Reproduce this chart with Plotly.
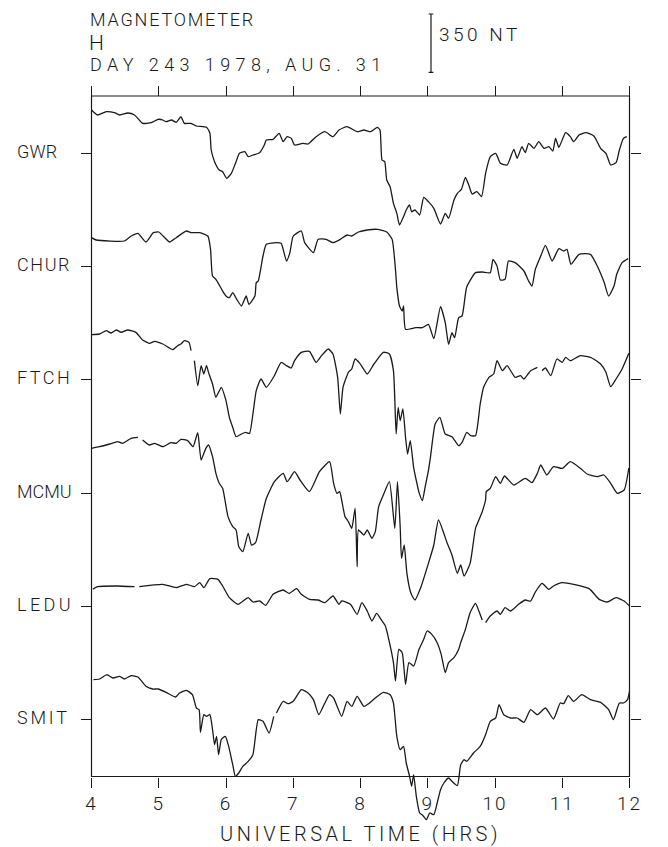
import plotly.graph_objects as go

# ---------------- data (H deviation in nT relative to each station's tick level) -------------
STATIONS = ["GWR", "CHUR", "FTCH", "MCMU", "LEDU", "SMIT"]
HOURS = [4, 5, 6, 7, 8, 9, 10, 11, 12]
SCALE_NT = 350

gwr_t = [4.00, 4.09, 4.22, 4.34, 4.42, 4.54, 4.64, 4.76, 4.89, 4.99, 5.06, 5.11, 5.19, 5.26, 5.33, 5.38,
         5.48, 5.56, 5.71, 5.76, 5.78, 5.83, 5.90, 5.95, 6.01, 6.08, 6.15, 6.20, 6.28, 6.33, 6.40, 6.50,
         6.57, 6.60, 6.70, 6.79, 6.85, 6.91, 6.97, 7.02, 7.14, 7.22, 7.34, 7.47, 7.59, 7.68, 7.80, 7.95,
         8.05, 8.15, 8.25, 8.29, 8.32, 8.36, 8.39, 8.44, 8.49, 8.54, 8.58, 8.64, 8.68, 8.73, 8.76, 8.81,
         8.88, 8.94, 9.01, 9.09, 9.19, 9.26, 9.31, 9.39, 9.44, 9.50, 9.56, 9.61, 9.66, 9.73, 9.80, 9.86,
         9.93, 10.01, 10.08, 10.18, 10.28, 10.33, 10.40, 10.45, 10.50, 10.58, 10.65, 10.73, 10.80, 10.86,
         10.90, 10.95, 11.05, 11.12, 11.17, 11.25, 11.35, 11.47, 11.57, 11.65, 11.72, 11.80, 11.85, 11.91,
         11.96]
gwr_h = [258, 228, 248, 242, 228, 240, 228, 178, 182, 202, 198, 188, 198, 184, 218, 178,
         178, 162, 154, 120, 18, -52, -102, -112, -152, -122, -52, -2, 8, -22, -12, 2,
         48, 78, 82, 118, 68, 98, 88, 48, 58, 54, 98, 128, 98, 138, 158, 128,
         138, 128, 154, 138, -42, -52, -162, -202, -302, -362, -432, -382, -342, -312, -352, -342,
         -372, -266, -292, -332, -426, -362, -392, -282, -242, -218, -146, -192, -246, -232, -262, -122,
         -22, -2, -62, -72, 22, -32, 38, 2, 58, 28, 68, 28, 38, 12,
         88, 34, 122, 98, 68, 108, 122, 102, 28, -2, -72, -58, 18, 88,
         98]

chur_t = [4.00, 4.07, 4.49, 4.59, 4.69, 4.81, 4.92, 5.00, 5.09, 5.16, 5.26, 5.41, 5.48, 5.61, 5.73, 5.77,
          5.80, 5.85, 5.88, 5.95, 6.00, 6.05, 6.10, 6.16, 6.23, 6.30, 6.34, 6.43, 6.45, 6.48, 6.55, 6.60,
          6.75, 6.82, 6.90, 6.95, 7.00, 7.12, 7.17, 7.30, 7.37, 7.49, 7.59, 7.70, 7.80, 7.87, 7.97, 8.10,
          8.25, 8.39, 8.47, 8.52, 8.54, 8.58, 8.62, 8.64, 8.67, 8.82, 8.92, 9.01, 9.09, 9.19, 9.26, 9.31,
          9.36, 9.40, 9.46, 9.51, 9.58, 9.71, 9.81, 9.93, 9.97, 10.03, 10.08, 10.15, 10.20, 10.30, 10.43,
          10.50, 10.55, 10.60, 10.68, 10.75, 10.85, 10.95, 11.02, 11.07, 11.13, 11.25, 11.42, 11.52, 11.62,
          11.69, 11.77, 11.81, 11.89, 11.98]
chur_h = [172, 158, 152, 182, 198, 146, 202, 206, 172, 146, 172, 212, 202, 202, 182, 102,
          -58, -78, -98, -148, -178, -188, -158, -198, -238, -178, -228, -178, -98, -88, 62, 132,
          142, 138, 32, 82, 182, 212, 142, 82, 162, 162, 142, 162, 188, 182, 206, 218,
          222, 206, 162, -18, -126, -238, -268, -238, -378, -368, -368, -348, -434, -242, -338, -468,
          -398, -428, -308, -298, -123, -38, -34, -38, 42, 2, -82, -78, 32, 22, -28,
          -88, -118, -18, 62, 126, 32, 106, 92, 102, 12, 72, 72, 2, -93,
          -178, -118, -48, 22, 46]

ftch_t = [4.00, 4.12, 4.22, 4.29, 4.37, 4.44, 4.54, 4.66, 4.76, 4.86, 4.94, 5.06, 5.21, 5.28, 5.33, 5.38,
          5.45, 5.48, 5.50, 5.53, 5.58, 5.63, 5.67, 5.71, 5.74, 5.80, 5.85, 5.93, 6.00, 6.05, 6.10, 6.15,
          6.23, 6.29, 6.35, 6.40, 6.45, 6.52, 6.60, 6.72, 6.82, 6.90, 6.97, 7.02, 7.12, 7.24, 7.34, 7.42,
          7.52, 7.59, 7.66, 7.70, 7.74, 7.82, 7.87, 7.92, 7.99, 8.10, 8.20, 8.34, 8.43, 8.49, 8.53, 8.56,
          8.59, 8.63, 8.67, 8.70, 8.74, 8.79, 8.83, 8.87, 8.92, 8.96, 9.01, 9.04, 9.11, 9.18, 9.26, 9.36,
          9.46, 9.51, 9.58, 9.64, 9.71, 9.78, 9.83, 9.91, 9.98, 10.03, 10.11, 10.18, 10.30, 10.38, 10.43,
          10.53, 10.63, 10.66, 10.70, 10.75, 10.83, 10.92, 11.00, 11.05, 11.12, 11.27, 11.44, 11.57, 11.65,
          11.72, 11.80, 11.89, 11.99]
ftch_h = [270, 274, 294, 280, 298, 284, 298, 284, 238, 218, 230, 214, 180, 204, 214, 234,
          224, 174, None, 114, -36, 84, 34, 84, 44, -26, -106, -46, -126, -226, -286, -342,
          -326, -316, -322, -206, -66, 4, -46, 24, 104, 84, 70, 114, 164, 170, 104, 144,
          184, 154, 14, -206, -46, 44, 64, 124, 98, 34, 94, 164, 154, 54, -326, -166,
          -246, -176, -346, -446, -366, -526, -606, -676, -726, -646, -546, -466, -266, -226, -326, -342,
          -396, -376, -316, -336, -336, -146, -46, 14, 34, 114, 54, 84, 14, 24, 4,
          54, 74, None, 54, 70, 24, 124, 104, 134, 114, 144, 130, 94, 44,
          -42, 4, 64, 158]

mcmu_t = [4.00, 4.12, 4.27, 4.39, 4.46, 4.59, 4.69, 4.72, 4.76, 4.86, 4.94, 5.06, 5.18, 5.26, 5.33, 5.43,
          5.51, 5.58, 5.63, 5.70, 5.74, 5.80, 5.85, 5.90, 5.95, 6.03, 6.10, 6.15, 6.19, 6.25, 6.33, 6.38,
          6.44, 6.52, 6.60, 6.72, 6.85, 6.91, 7.02, 7.10, 7.24, 7.39, 7.54, 7.60, 7.65, 7.69, 7.72, 7.77,
          7.82, 7.87, 7.92, 7.95, 7.97, 8.05, 8.10, 8.17, 8.22, 8.27, 8.35, 8.43, 8.51, 8.55, 8.59, 8.61,
          8.65, 8.69, 8.75, 8.81, 8.90, 9.01, 9.09, 9.16, 9.29, 9.36, 9.44, 9.49, 9.54, 9.63, 9.71, 9.76,
          9.81, 9.86, 9.87, 9.93, 10.01, 10.08, 10.14, 10.28, 10.45, 10.55, 10.63, 10.68, 10.77, 10.87,
          11.00, 11.12, 11.27, 11.37, 11.52, 11.62, 11.72, 11.82, 11.92, 11.99]
mcmu_h = [268, 278, 294, 308, 298, 328, 334, None, 318, 288, 298, 278, 302, 298, 322, 314,
          278, 362, 198, 268, 288, 218, 118, 58, 28, -142, -202, -222, -322, -352, -242, -312,
          -298, -162, -32, 68, 118, 68, 128, 78, 8, 128, 188, 58, -2, 8, -42, -142,
          -172, -212, -92, -442, -222, -252, -222, -272, -232, -82, -2, 68, -212, 68, -202, -392,
          -312, -482, -602, -642, -562, -422, -312, -162, -302, -372, -482, -432, -498, -422, -212, -162,
          -112, -42, 8, 28, 98, 58, 102, 48, 88, 62, 118, 168, 108, 158,
          148, 188, 148, 114, 98, 108, 58, -2, 18, 150]

ledu_t = [4.02, 4.09, 4.37, 4.64, 4.67, 4.71, 5.06, 5.26, 5.41, 5.53, 5.61, 5.67, 5.76, 5.88, 5.95, 6.05,
          6.18, 6.33, 6.40, 6.50, 6.59, 6.70, 6.85, 6.94, 7.05, 7.12, 7.24, 7.37, 7.47, 7.59, 7.68, 7.72,
          7.85, 7.95, 8.02, 8.10, 8.17, 8.24, 8.32, 8.37, 8.42, 8.49, 8.52, 8.57, 8.62, 8.67, 8.72, 8.79,
          8.87, 8.94, 8.99, 9.06, 9.14, 9.20, 9.26, 9.31, 9.39, 9.46, 9.49, 9.56, 9.63, 9.71, 9.76, 9.81,
          9.83, 9.86, 9.93, 10.03, 10.08, 10.15, 10.23, 10.35, 10.45, 10.53, 10.60, 10.70, 10.80, 10.87,
          11.00, 11.17, 11.40, 11.55, 11.67, 11.80, 11.92, 12.00]
ledu_h = [102, 118, 122, 118, None, 118, 132, 112, 132, 118, 142, 112, 166, 162, 122, 52,
          12, 52, 26, 32, 6, 72, 98, 78, 106, 72, 42, 38, 22, 62, 12, 32,
          12, -48, 22, -28, -88, -42, -88, -118, -198, -338, -448, -258, -278, -468, -338, -358,
          -258, -198, -148, -168, -218, -288, -398, -338, -308, -258, -218, -138, -38, 18, -28, -82,
          None, -98, -58, -28, -48, -8, -28, 12, 38, 32, 86, 138, 102, 122,
          142, 132, 106, 42, 26, 52, 32, 2]

smit_t = [4.03, 4.12, 4.23, 4.32, 4.42, 4.49, 4.59, 4.69, 4.81, 4.91, 4.99, 5.11, 5.25, 5.31, 5.41, 5.50,
          5.56, 5.60, 5.62, 5.67, 5.71, 5.76, 5.80, 5.83, 5.86, 5.89, 5.93, 5.99, 6.04, 6.10, 6.14, 6.19,
          6.25, 6.33, 6.40, 6.48, 6.55, 6.64, 6.71, 6.73, 6.75, 6.85, 6.92, 7.00, 7.12, 7.22, 7.30, 7.38,
          7.47, 7.54, 7.60, 7.72, 7.80, 7.87, 7.95, 8.05, 8.12, 8.22, 8.34, 8.44, 8.49, 8.54, 8.59, 8.64,
          8.68, 8.73, 8.76, 8.79, 8.83, 8.88, 8.93, 8.98, 9.03, 9.09, 9.14, 9.19, 9.24, 9.31, 9.36, 9.44,
          9.49, 9.54, 9.58, 9.68, 9.78, 9.86, 9.93, 10.01, 10.06, 10.13, 10.23, 10.33, 10.43, 10.53, 10.63,
          10.75, 10.87, 10.97, 11.02, 11.09, 11.17, 11.29, 11.42, 11.57, 11.69, 11.76, 11.85, 11.91, 11.97,
          12.00]
smit_h = [240, 244, 270, 250, 260, 244, 264, 256, 200, 184, 184, 164, 136, 160, 176, 150,
          70, 60, -76, 30, 20, 30, -60, -150, -100, -210, -120, -100, -160, -270, -340, -320,
          -280, -250, -210, 0, -10, -80, 20, None, 40, 110, 96, 110, 180, 160, 120, 30,
          100, 150, 130, 20, 110, 80, 140, 80, 96, 130, 164, 150, 100, -100, -180, -160,
          -260, -340, -400, -330, -460, -560, -576, -600, -560, -570, -500, -420, -380, -350, -370, -396,
          -270, -240, -250, -200, -160, -90, -10, 10, 90, 30, 10, 10, -16, 60, 30,
          70, 4, 100, 96, 144, 110, 150, 120, 104, 60, 0, 100, 100, 120,
          170]

SERIES = [(gwr_t, gwr_h), (chur_t, chur_h), (ftch_t, ftch_h),
          (mcmu_t, mcmu_h), (ledu_t, ledu_h), (smit_t, smit_h)]
for (tt, hh), name in zip(SERIES, STATIONS):
    assert len(tt) == len(hh), (name, len(tt), len(hh))

# ---------------- layout geometry (target screen pixels) ----------------
W, H = 668, 847
PAGE_OFF = 8                   # default page margin of the html body
NT_PER_PX = 6.0
STATION_SPACING = 680          # nT between stacked traces
TOP_PX, BOTTOM_PX = 96, 776.5  # frame top / bottom
LEFT_PX, RIGHT_PX = 91.5, 629.5
FIRST_BASE_PX = 153            # row of the GWR tick
DOM_BOTTOM_PX = 846            # traces may run below the frame (as in original)


def py(p):
    return 1 - (p - PAGE_OFF) / H


def pxx(p):
    return (p - PAGE_OFF) / W


Y_RANGE = [-(DOM_BOTTOM_PX - FIRST_BASE_PX) * NT_PER_PX, (FIRST_BASE_PX - PAGE_OFF) * NT_PER_PX]
Y_DOM = [py(DOM_BOTTOM_PX), 1.0]
X_DOM = [pxx(LEFT_PX), pxx(RIGHT_PX)]
offsets = [-i * STATION_SPACING for i in range(len(STATIONS))]

FONT = "Roboto"
WT = 300
INK = "#1a1a1a"
# per-label letter spacing so that each label spans the width of the plotter lettering
LABEL_LS = {"GWR": 0.2, "CHUR": 1.6, "FTCH": 2.5, "MCMU": 0.0, "LEDU": 3.4, "SMIT": 2.8}


def spaced(txt, ls):
    return f'<span style="letter-spacing:{ls}px">{txt}</span>'


fig = go.Figure()
for (tt, hh), off, name in zip(SERIES, offsets, STATIONS):
    fig.add_trace(go.Scatter(
        x=tt, y=[None if v is None else v + off for v in hh],
        mode="lines", name=name, connectgaps=False,
        line=dict(color=INK, width=1.3, shape="spline", smoothing=0.5),
        showlegend=False, hoverinfo="skip"))

# 350 nT scale bar, drawn in data units
SCALE_T = 4 + (431 - LEFT_PX) / ((RIGHT_PX - LEFT_PX) / 8)
bar_top = (FIRST_BASE_PX - 14) * NT_PER_PX
bar_bot = bar_top - SCALE_NT
cap = 0.035
fig.add_trace(go.Scatter(
    x=[SCALE_T - cap, SCALE_T + cap, None, SCALE_T, SCALE_T, None, SCALE_T - cap, SCALE_T + cap],
    y=[bar_top, bar_top, None, bar_top, bar_bot, None, bar_bot, bar_bot],
    mode="lines", line=dict(color=INK, width=1.2), showlegend=False, hoverinfo="skip"))

# dummy trace to realise the mirrored top / right axes
fig.add_trace(go.Scatter(x=[None], y=[None], xaxis="x2", yaxis="y2", showlegend=False))

tick_font = dict(family=FONT, size=19, color=INK, weight=WT)

fig.update_layout(
    width=W, height=H, paper_bgcolor="white", plot_bgcolor="white",
    margin=dict(l=0, r=0, t=0, b=0, pad=0, autoexpand=False),
    showlegend=False,
    xaxis=dict(domain=X_DOM, range=[4, 12], anchor="free", position=py(BOTTOM_PX),
               automargin=False,
               tickvals=HOURS, ticktext=[spaced(str(h), 2) for h in HOURS],
               ticks="outside", ticklen=10, tickwidth=1.1, tickcolor=INK,
               showgrid=False, zeroline=False, showline=False,
               tickfont=tick_font,
               title=dict(text=spaced("UNIVERSAL TIME (HRS)", 3.5),
                          font=dict(family=FONT, size=20, color=INK, weight=WT), standoff=12)),
    xaxis2=dict(domain=X_DOM, matches="x", overlaying="x", side="top", anchor="free",
                automargin=False,
                position=py(TOP_PX), tickvals=HOURS, ticks="outside", ticklen=10,
                tickwidth=1.1, tickcolor=INK, showticklabels=False, showgrid=False,
                zeroline=False, showline=False),
    yaxis=dict(domain=Y_DOM, range=Y_RANGE, anchor="x", tickvals=offsets, automargin=False,
               ticks="outside", ticklen=10, tickwidth=1.1, tickcolor=INK,
               showticklabels=False, showgrid=False, zeroline=False, showline=False),
    yaxis2=dict(domain=Y_DOM, matches="y", overlaying="y", side="right", anchor="free",
                automargin=False,
                position=X_DOM[1], tickvals=offsets, ticks="outside", ticklen=10,
                tickwidth=1.1, tickcolor=INK, showticklabels=False, showgrid=False,
                zeroline=False, showline=False),
)

# frame
fig.add_shape(type="rect", xref="paper", yref="paper",
              x0=X_DOM[0], x1=X_DOM[1], y0=py(BOTTOM_PX), y1=py(TOP_PX),
              line=dict(color=INK, width=1.2), layer="above")

# station labels (left aligned, like the original)
for name, off in zip(STATIONS, offsets):
    fig.add_annotation(xref="paper", yref="y", x=pxx(15), y=off + 2 * NT_PER_PX,
                       xanchor="left", yanchor="middle", showarrow=False,
                       text=spaced(name, LABEL_LS[name]),
                       font=dict(family=FONT, size=18, color=INK, weight=WT))

# header
hdr = dict(family=FONT, size=18, color=INK, weight=WT)
fig.add_annotation(xref="paper", yref="paper", x=pxx(88), y=py(19.5), xanchor="left",
                   yanchor="middle", showarrow=False, text=spaced("MAGNETOMETER", 1.8), font=hdr)
fig.add_annotation(xref="paper", yref="paper", x=pxx(87), y=py(42.5), xanchor="left",
                   yanchor="middle", showarrow=False, text="H",
                   font=dict(family=FONT, size=21, color=INK, weight=WT))
fig.add_annotation(xref="paper", yref="paper", x=pxx(88), y=py(64), xanchor="left",
                   yanchor="middle", showarrow=False, text=spaced("DAY 243 1978, AUG. 31", 5.4),
                   font=hdr)
fig.add_annotation(xref="paper", yref="paper", x=pxx(437), y=py(34.5), xanchor="left",
                   yanchor="middle", showarrow=False, text=spaced(f"{SCALE_NT} NT", 3.5),
                   font=dict(family=FONT, size=19, color=INK, weight=WT))

fig.write_html("out.html")
